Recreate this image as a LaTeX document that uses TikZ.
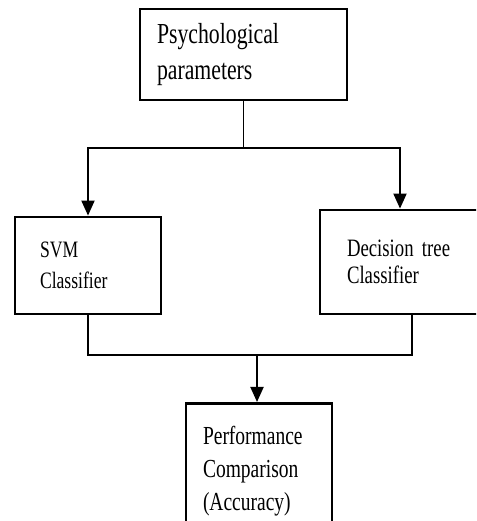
\documentclass[tikz,border=0pt]{standalone}
\usepackage{fontspec}
\setmainfont{Liberation Serif}
\newfontfamily\narrowserif[FakeStretch=0.75]{Liberation Serif}
\usetikzlibrary{arrows.meta,positioning}

\tikzset{
  box/.style={draw, line width=2.8pt, align=left, anchor=center},
  link/.style={line width=1.9pt},
  arrowlink/.style={link, -{Triangle[width=13pt,length=15pt]}}
}

\begin{document}
\begin{tikzpicture}[x=1pt,y=1pt]
\useasboundingbox (0,0) rectangle (476,521);
\clip (0,0) rectangle (476,521);

\node (PP) [box, minimum width=207pt, minimum height=91pt, text width=173pt,
  font=\narrowserif\fontsize{29}{36}\selectfont] at (243.5,466.5) {Psychological\\parameters};
\node (SVM) [box, minimum width=146pt, minimum height=97pt, text width=96pt,
  font=\narrowserif\fontsize{23.5}{31}\selectfont] at (88,255.5) {SVM\\Classifier};
\node (DT) [box, minimum width=160pt, minimum height=104pt, text width=106pt,
  font=\narrowserif\fontsize{25}{27}\selectfont] at (400,259) {Decision tree\\Classifier};
\node (PC) [box, minimum width=146pt, minimum height=135pt, text width=112pt, anchor=north,
  font=\narrowserif\fontsize{26}{33}\selectfont] at (259,119) {Performance\\Comparison\\(Accuracy)};

\coordinate (split) at (243.5,373);
\coordinate (join) at (257,166);

\draw[link] (PP) -- (split);
\draw[arrowlink] (split) -| (SVM.north);
\draw[arrowlink] (split) -| (DT.north);
\draw[link] (SVM.south) |- (join);
\draw[link] ([xshift=12pt]DT.south) |- (join);
\draw[arrowlink] (join) -- (join |- PC.north);
\end{tikzpicture}
\end{document}
